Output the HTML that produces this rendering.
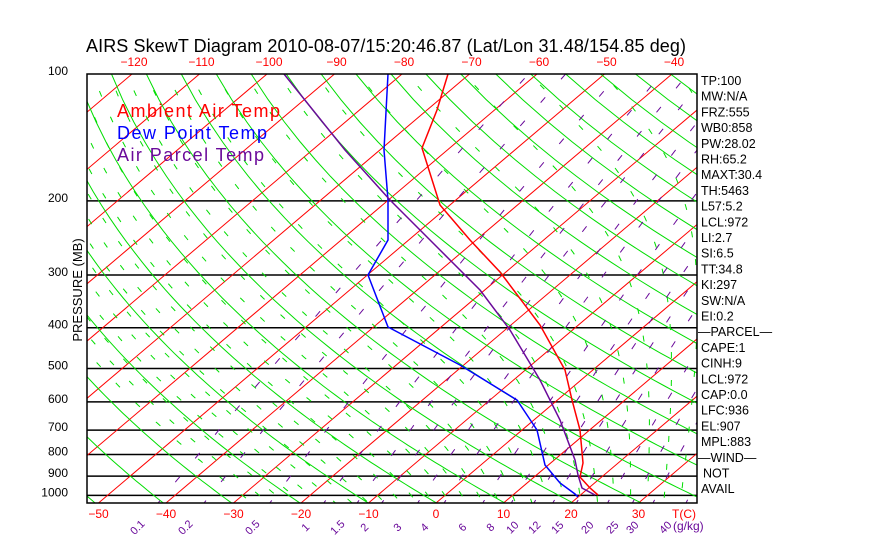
<!DOCTYPE html>
<html><head><meta charset="utf-8"><style>
html,body{margin:0;padding:0;background:#fff;}
svg{display:block;font-family:"Liberation Sans",sans-serif;}
</style></head><body>
<svg id="s" width="870" height="560" xmlns="http://www.w3.org/2000/svg">
<defs><clipPath id="c"><rect x="87" y="74" width="610" height="429"/></clipPath></defs>
<rect width="870" height="560" fill="#fff"/>
<g id="g" clip-path="url(#c)"></g>
<g id="prof" clip-path="url(#c)"></g>
<rect x="87" y="74" width="610" height="429" fill="none" stroke="#000" stroke-width="1.5"/>
<text x="86" y="52" font-size="18" fill="#000" textLength="600" lengthAdjust="spacing">AIRS SkewT Diagram 2010-08-07/15:20:46.87 (Lat/Lon 31.48/154.85 deg)</text>
<g font-size="18">
<text x="117" y="117" fill="#f00" textLength="163">Ambient Air Temp</text>
<text x="117" y="139" fill="#00f" textLength="150">Dew Point Temp</text>
<text x="117" y="161" fill="#6a0a9a" textLength="147">Air Parcel Temp</text>
</g>
<text transform="translate(82,290) rotate(-90)" text-anchor="middle" font-size="13">PRESSURE (MB)</text>
<g id="lab"></g>
</svg>
<script>
var NS="http://www.w3.org/2000/svg",g=document.getElementById("g"),lab=document.getElementById("lab");
function Y(p){return 74+183*Math.log(p/100);}
function X(T,y){return 436+6.75*T+(503-y)*1.1795;}
function el(par,n,a,t){var e=document.createElementNS(NS,n);for(var k in a)e.setAttribute(k,a[k]);if(t!=null)e.textContent=t;par.appendChild(e);return e;}
function poly(par,pts,st,w,da){el(par,"polyline",{points:pts.map(function(q){return q[0].toFixed(1)+","+q[1].toFixed(1)}).join(" "),fill:"none",stroke:st,"stroke-width":w||1,"stroke-dasharray":da||"none"});}
[200,300,400,500,600,700,800,900,1000].forEach(function(p){var y=Y(p);el(g,"line",{x1:87,x2:697,y1:y,y2:y,stroke:"#000","stroke-width":1.5});});
for(var T=-160;T<=50;T+=10){poly(g,[[X(T,503),503],[X(T,74),74]],"#f00",1);}
for(var th=190;th<=520;th+=10){var pts=[];for(var p=1060;p>=95;p-=15){var Tk=th*Math.pow(p/1000,0.286);var y=Y(p);pts.push([X(Tk-273.15,y),y]);}poly(g,pts,"#0d0",1);}
function es(T){return 6.112*Math.exp(17.67*T/(T+243.5));}
function dTdp(Tc,p){var rs=0.622*es(Tc)/(p-es(Tc));var Tk=Tc+273.15;return (287*Tk+2.5e6*rs)/(p*(1004+2.5e6*2.5e6*rs*0.622/(287*Tk*Tk)));}
for(var tw=-30;tw<=40;tw+=2.5){var T2=tw;for(var pp=1000;pp<1060;pp+=5){T2+=dTdp(T2,pp)*5;}
 var pts=[[X(T2,Y(1060)),Y(1060)]];var Tc=tw;
 for(var p=1000;p>=95;p-=5){var y=Y(p);pts.push([X(Tc,y),y]);Tc-=dTdp(Tc,p)*5;}
 pts.reverse();poly(g,pts,"#0d0",1,"6 22");}
var W=[0.1,0.2,0.5,1,1.5,2,3,4,6,8,10,12,15,20,25,30,40];
W.forEach(function(w){var pts=[];for(var p=1060;p>=100;p-=10){var e=w*p/(622+w);var a=Math.log(e/6.112);var T=243.5*a/(17.67-a);var y=Y(p);pts.push([X(T,y),y]);}poly(g,pts,"#6a0a9a",1,"7 24");});
var P=document.getElementById("prof");
poly(P,[[448,74],[437,110],[422,148],[440,205],[470,240],[500,272],[540,325],[565,370],[572,400],[580,430],[583,463],[580,477],[590,488],[598,495]],"#f00",1.5);
poly(P,[[388,74],[384,150],[388,200],[388,240],[368,275],[388,327],[460,365],[517,400],[537,430],[545,465],[560,483],[575,494],[578,497]],"#00f",1.5);
poly(P,[[284,74],[345,150],[390,200],[440,250],[480,290],[510,330],[540,380],[560,420],[575,460],[578,475],[582,488],[595,495]],"#6a0a9a",1.5);
[100,200,300,400,500,600,700,800,900,1000].forEach(function(a){el(lab,"text",{x:68,y:Y(a)+1,"text-anchor":"end","font-size":12},""+a);});
for(var t=-120;t<=-40;t+=10){el(lab,"text",{x:X(t,74)+2,y:66,"text-anchor":"middle","font-size":12,fill:"#f00"},"\u2212"+(-t));}
for(var t=-50;t<=30;t+=10){el(lab,"text",{x:X(t,503),y:518,"text-anchor":"middle","font-size":12,fill:"#f00"},t<0?"\u2212"+(-t):""+t);}
el(lab,"text",{x:684,y:518,"text-anchor":"middle","font-size":12,fill:"#f00"},"T(C)");
var wx=[140,188,255,308,340,367,400,427,465,493,515,537,560,590,615,635,668];
W.forEach(function(w,i){el(lab,"text",{transform:"translate("+wx[i]+",530) rotate(-45)","text-anchor":"middle","font-size":11,fill:"#6a0a9a"},""+w);});
el(lab,"text",{x:673,y:530,"font-size":12,fill:"#6a0a9a"},"(g/kg)");
var R=["TP:100","MW:N/A","FRZ:555","WB0:858","PW:28.02","RH:65.2","MAXT:30.4","TH:5463","L57:5.2","LCL:972","LI:2.7","SI:6.5","TT:34.8","KI:297","SW:N/A","EI:0.2","\u2014PARCEL\u2014","CAPE:1","CINH:9","LCL:972","CAP:0.0","LFC:936","EL:907","MPL:883","\u2014WIND\u2014","NOT","AVAIL"];
R.forEach(function(s,i){el(lab,"text",{x:(s=="NOT"?703:(s[0]=="\u2014"?698:701)),y:85+i*15.7,"font-size":12.5},s);});
</script>
</body></html>
